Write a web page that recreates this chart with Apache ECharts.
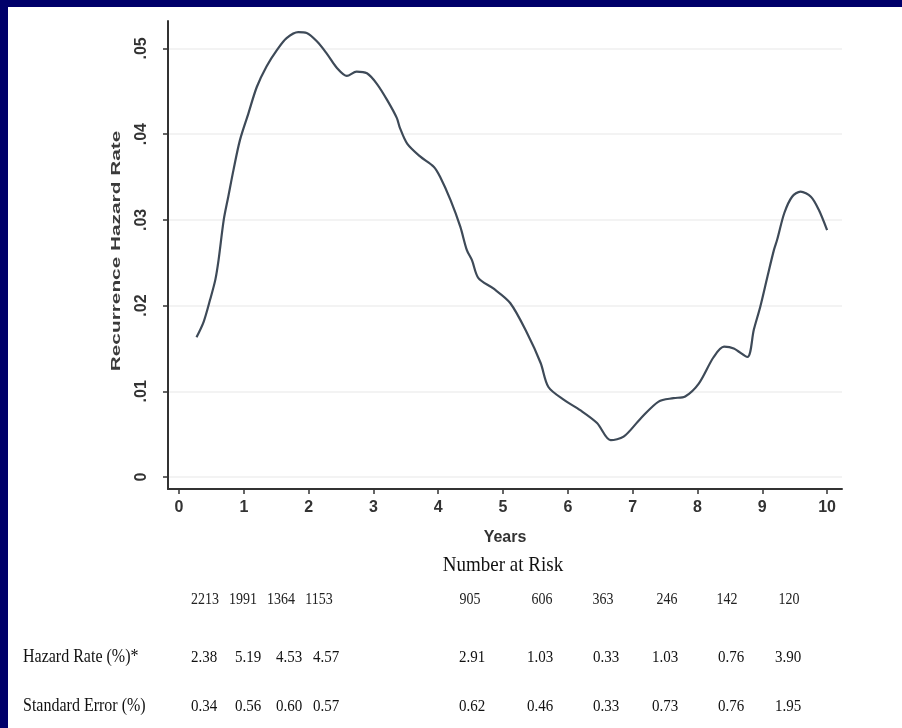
<!DOCTYPE html>
<html><head><meta charset="utf-8">
<script src="https://cdn.jsdelivr.net/npm/echarts@6/dist/echarts.min.js"></script>
<style>
html,body{margin:0;padding:0;background:#00006a;overflow:hidden;}
#panel{position:absolute;left:8px;top:7px;width:894px;height:721px;background:#ffffff;}
#chart{position:absolute;left:0;top:0;width:902px;height:728px;}
</style></head><body><div id="panel"></div><div id="chart"></div>
<script>
// ---- data ----
const years = [0.27, 0.38, 0.48, 0.56, 0.61, 0.69, 0.76, 0.84, 0.94, 1.07, 1.20, 1.35, 1.51, 1.66, 1.84, 1.97, 2.13, 2.28, 2.44, 2.59, 2.74, 2.90, 3.05, 3.21, 3.36, 3.41, 3.52, 3.72, 3.93, 4.03, 4.19, 4.34, 4.44, 4.52, 4.62, 4.85, 5.11, 5.37, 5.58, 5.70, 5.94, 6.19, 6.45, 6.66, 6.86, 7.12, 7.40, 7.63, 7.81, 8.02, 8.25, 8.41, 8.56, 8.77, 8.87, 8.97, 9.08, 9.18, 9.23, 9.34, 9.46, 9.59, 9.75, 9.87, 10.0];
const hazardRate = [0.0163, 0.0181, 0.0207, 0.0230, 0.0253, 0.0300, 0.0327, 0.0358, 0.0393, 0.0424, 0.0455, 0.0479, 0.0498, 0.0512, 0.0519, 0.0518, 0.0508, 0.0494, 0.0477, 0.0468, 0.0473, 0.0471, 0.0459, 0.0440, 0.0419, 0.0407, 0.0389, 0.0374, 0.0362, 0.0350, 0.0323, 0.0292, 0.0265, 0.0253, 0.0232, 0.0220, 0.0203, 0.0168, 0.0133, 0.0105, 0.0090, 0.0078, 0.0063, 0.0043, 0.0047, 0.0068, 0.0088, 0.0092, 0.0094, 0.0109, 0.0140, 0.0152, 0.0150, 0.0140, 0.0172, 0.0199, 0.0234, 0.0265, 0.0277, 0.0308, 0.0327, 0.0333, 0.0327, 0.0312, 0.0288];
const xTicks = [0, 1, 2, 3, 4, 5, 6, 7, 8, 9, 10];
const yTicks = [0, 0.01, 0.02, 0.03, 0.04, 0.05];
const yTickLabels = ['0', '.01', '.02', '.03', '.04', '.05'];
const xTitle = 'Years';
const yTitle = 'Recurrence Hazard Rate';
const tableTitle = 'Number at Risk';
const rowNames = ['Hazard Rate (%)*', 'Standard Error (%)'];
const numberAtRisk = ['2213', '1991', '1364', '1153', '905', '606', '363', '246', '142', '120'];
const hazardPct = ['2.38', '5.19', '4.53', '4.57', '2.91', '1.03', '0.33', '1.03', '0.76', '3.90'];
const stdErrPct = ['0.34', '0.56', '0.60', '0.57', '0.62', '0.46', '0.33', '0.73', '0.76', '1.95'];

// ---- layout (pixels) ----
const riskColX = [205, 243, 281, 319, 470, 542, 603, 667, 727, 789];
const valColX = [204, 248, 289, 326, 472, 540, 606, 665, 731, 788];
const rowY = [600, 657, 706];

const chart = echarts.init(document.getElementById('chart'), null, {renderer: 'canvas'});
const serif = '"Liberation Serif", "DejaVu Serif", serif';
const sans = '"Liberation Sans", Arial, sans-serif';

const graphics = [];
graphics.push({
  type: 'text', x: 116, y: 251, rotation: Math.PI / 2, scaleX: 1.6,
  style: {text: yTitle, font: 'bold 13px ' + sans, fill: '#3a3a3a', align: 'center', verticalAlign: 'middle'}
});
graphics.push({
  type: 'text', x: 503, y: 566, scaleY: 1.1,
  style: {text: tableTitle, font: '19px ' + serif, fill: '#111', align: 'center', verticalAlign: 'middle'}
});
numberAtRisk.forEach((t, i) => graphics.push({
  type: 'text', x: riskColX[i], y: rowY[0], scaleY: 1.2,
  style: {text: t, font: '14px ' + serif, fill: '#222', align: 'center', verticalAlign: 'middle'}
}));
[hazardPct, stdErrPct].forEach((row, r) => {
  graphics.push({
    type: 'text', x: 23, y: rowY[r + 1], scaleY: 1.15,
    style: {text: rowNames[r], font: '16px ' + serif, fill: '#111', align: 'left', verticalAlign: 'middle'}
  });
  row.forEach((t, i) => graphics.push({
    type: 'text', x: valColX[i], y: rowY[r + 1], scaleY: 1.15,
    style: {text: t, font: '15px ' + serif, fill: '#111', align: 'center', verticalAlign: 'middle'}
  }));
});

chart.setOption({
  backgroundColor: 'transparent',
  animation: false,
  grid: {left: 168, right: 60, top: 21, bottom: 239, containLabel: false},
  xAxis: {
    type: 'value', min: -0.17, max: 10.23,
    name: xTitle, nameLocation: 'middle', nameGap: 41,
    nameTextStyle: {fontFamily: sans, fontSize: 16, fontWeight: 'bold', color: '#333'},
    axisLine: {show: true, onZero: false, lineStyle: {color: '#333', width: 2}},
    axisTick: {show: true, length: 5, customValues: xTicks, lineStyle: {color: '#333', width: 1.5}},
    axisLabel: {customValues: xTicks, margin: 11, fontFamily: sans, fontSize: 16, fontWeight: 'bold', color: '#333'},
    splitLine: {show: false}
  },
  yAxis: {
    type: 'value', min: -0.0014, max: 0.0532,
    axisLine: {show: true, onZero: false, lineStyle: {color: '#333', width: 2}},
    axisTick: {show: true, length: 5, customValues: yTicks, lineStyle: {color: '#333', width: 1.5}},
    axisLabel: {
      customValues: yTicks, rotate: 90, margin: 18, fontFamily: sans, fontSize: 16, fontWeight: 'bold', color: '#333',
      formatter: v => yTickLabels[yTicks.indexOf(v)] !== undefined ? yTickLabels[yTicks.indexOf(v)] : String(v)
    },
    splitLine: {show: true, lineStyle: {color: '#efefef', width: 1.5}}
  },
  series: [{
    type: 'line',
    data: years.map((x, i) => [x, hazardRate[i]]),
    smooth: 0.3,
    showSymbol: false,
    lineStyle: {color: '#3e4a58', width: 2.2}
  }],
  graphic: graphics
});
</script></body></html>
